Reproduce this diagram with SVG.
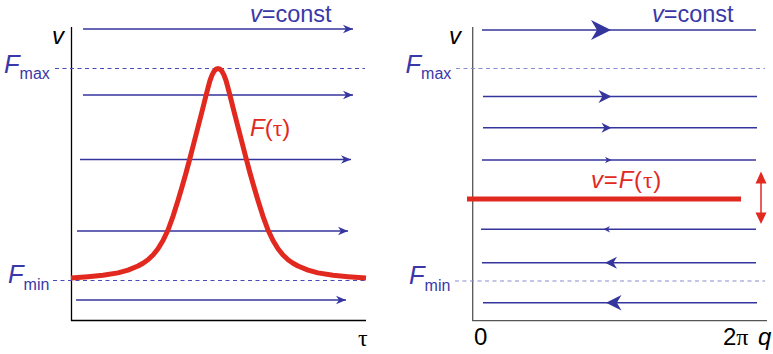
<svg xmlns="http://www.w3.org/2000/svg" width="773" height="354" viewBox="0 0 773 354">
<style>
.ax{stroke:#000;stroke-width:1.3;fill:none}
.ax2{stroke:#555;stroke-width:1.3;fill:none}
.ar{stroke:#35359e;stroke-width:1.5;fill:none}
.dash{stroke:#4a4ab8;stroke-width:1;stroke-dasharray:4 3.5;fill:none}
.dash2{stroke:#8a8ad0;stroke-width:1.2;stroke-dasharray:4 3.5;fill:none}
.red{stroke:#e2291f;stroke-width:5;fill:none;stroke-linejoin:round}
.t{font-family:"Liberation Sans",Arial,sans-serif;font-size:24px;fill:#3a38a8}
.tr{font-family:"Liberation Sans",Arial,sans-serif;font-size:24px;fill:#e2291f}
.tk{font-family:"Liberation Sans",Arial,sans-serif;font-size:24px;fill:#000}
.top{font-size:23.5px}
.big{font-size:25.5px}
.sub{font-size:16px}
.i{font-style:italic}
.g{font-family:"Liberation Serif","Times New Roman",serif}
.ah{fill:#35359e}
</style>
<defs>
<marker id="arr" markerUnits="userSpaceOnUse" markerWidth="12" markerHeight="10" viewBox="0 0 12 10" refX="10" refY="5" orient="auto">
<path d="M0,0.8 L10,5 L0,9.2 L3,5 Z" fill="#35359e"/>
</marker>
<path id="head" d="M0,0 L-10,-5 L-7,0 L-10,5 Z"/>
</defs>

<g id="left-panel">
<g id="left-axes">
<path class="ax" d="M71.5,27 V320.5 H366"/>
<text class="tk i" x="52" y="44">v</text>
<text class="tk g" x="358" y="346">τ</text>
</g>
<g id="left-levels">
<line class="dash" x1="55" y1="68.5" x2="365" y2="68.5"/>
<line class="dash" x1="53" y1="280.5" x2="366" y2="280.5"/>
<text class="t" x="4" y="73.3"><tspan class="i big">F</tspan><tspan class="sub" dy="6">max</tspan></text>
<text class="t" x="8" y="283.3"><tspan class="i big">F</tspan><tspan class="sub" dy="6.7">min</tspan></text>
</g>
<g id="left-flow">
<line class="ar" x1="83" y1="29" x2="353" y2="29" marker-end="url(#arr)"/>
<line class="ar" x1="83" y1="95" x2="353" y2="95" marker-end="url(#arr)"/>
<line class="ar" x1="80" y1="159.5" x2="351" y2="159.5" marker-end="url(#arr)"/>
<line class="ar" x1="77" y1="231" x2="348" y2="231" marker-end="url(#arr)"/>
<line class="ar" x1="76" y1="300" x2="346" y2="300" marker-end="url(#arr)"/>
<text class="t top" x="250" y="21.5"><tspan class="i">v</tspan>=const</text>
</g>
<g id="left-curve">
<polyline class="red" points="71,278 88,276.7 103,275.3 118,272.9 128,270.1 138,266 143,263.2 148,259.7 153,255 158,248.7 163,240.5 168,230 173,216.3 178,200.5 182,187 186,173 190,158 194,142.5 198,127 202,111.5 206,95.5 208,87.8 210,80.5 212,75.2 214,71.3 216,69.2 218,68.5 220,69.2 222,71.3 224,75.2 226,80.5 228,87.8 230,95.5 234,111.5 238,127 242,142.5 246,158 250,173 254,187 258,200.5 263,216.3 268,230 273,240.5 278,248.7 283,255 288,259.7 293,263.2 298,266 308,270.1 318,272.9 333,275.3 348,276.7 366,278"/>
<text class="tr" x="250" y="136"><tspan class="i">F</tspan>(<tspan class="g">τ</tspan>)</text>
</g>
</g>

<g id="right-panel">
<g id="right-axes">
<path class="ax2" d="M472.7,27 V320.7 H767"/>
<text class="tk i" x="449" y="44">v</text>
<text class="tk" x="474" y="345">0</text>
<text class="tk" x="723" y="345">2<tspan class="g">π</tspan></text>
<text class="tk i" x="758" y="345">q</text>
</g>
<g id="right-levels">
<line class="dash2" x1="456" y1="68.5" x2="765" y2="68.5"/>
<line class="dash2" x1="455" y1="281" x2="765" y2="281"/>
<text class="t" x="405.5" y="73.3"><tspan class="i big">F</tspan><tspan class="sub" dy="6">max</tspan></text>
<text class="t" x="409" y="284"><tspan class="i big">F</tspan><tspan class="sub" dy="6.7">min</tspan></text>
</g>
<g id="right-flow">
<line class="ar" x1="482" y1="30" x2="756" y2="30"/>
<use href="#head" class="ah" transform="translate(611,30) scale(2)"/>
<line class="ar" x1="483" y1="96.5" x2="757" y2="96.5"/>
<use href="#head" class="ah" transform="translate(611.5,96.5) scale(1.3)"/>
<line class="ar" x1="483" y1="127.7" x2="757" y2="127.7"/>
<use href="#head" class="ah" transform="translate(611.5,127.7) scale(1)"/>
<line class="ar" x1="482" y1="160" x2="756" y2="160"/>
<use href="#head" class="ah" transform="translate(611.5,160) scale(0.65)"/>
<line class="ar" x1="481" y1="229.3" x2="756" y2="229.3"/>
<use href="#head" class="ah" transform="translate(603.5,229.3) scale(-0.65,0.65)"/>
<line class="ar" x1="482" y1="262.7" x2="756" y2="262.7"/>
<use href="#head" class="ah" transform="translate(605,262.7) scale(-1.2,1.2)"/>
<line class="ar" x1="483" y1="302.7" x2="757" y2="302.7"/>
<use href="#head" class="ah" transform="translate(606,302.7) scale(-1.55,1.55)"/>
<text class="t top" x="652" y="21.5"><tspan class="i">v</tspan>=const</text>
</g>
<g id="right-curve">
<line class="red" x1="467" y1="199" x2="741" y2="199"/>
<line stroke="#e2291f" stroke-width="1.5" x1="761" y1="182" x2="761" y2="214"/>
<path fill="#e2291f" d="M761,171.5 L766.5,183.5 L755.5,183.5 Z M761,224 L766.5,212.5 L755.5,212.5 Z"/>
<text class="tr" x="591" y="188" letter-spacing="0.8"><tspan class="i">v</tspan>=<tspan class="i">F</tspan>(<tspan class="g">τ</tspan>)</text>
</g>
</g>
</svg>
